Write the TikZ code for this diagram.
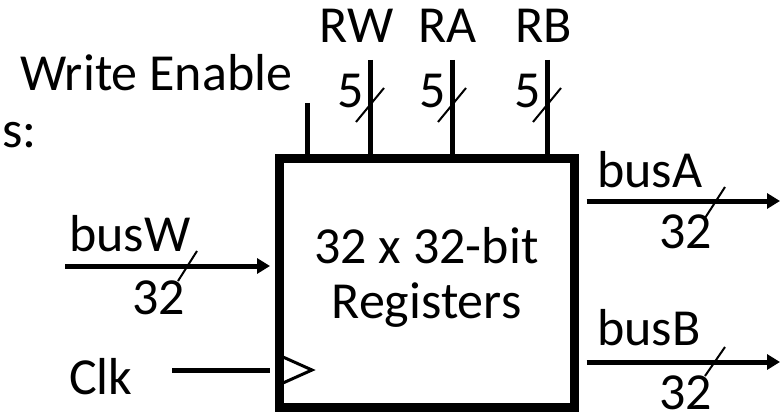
\documentclass[tikz,border=0pt]{standalone}
\usepackage{fontspec}
\setmainfont{Carlito}
\usetikzlibrary{arrows.meta}
\definecolor{regInk}{HTML}{000000}
\tikzset{
  every picture/.style={font=\fontsize{52}{50}\selectfont, text=regInk},
  reg box/.style={draw=regInk, line width=9pt, fill=white,
    minimum width=295pt, minimum height=249pt, inner sep=0pt},
  reg wire/.style={draw=regInk, line width=5pt, line cap=butt},
  reg bus/.style={reg wire, -{Triangle[length=13pt,width=15pt]}},
  reg slash/.style={draw=regInk, line width=2pt},
  reg clk/.style={draw=regInk, line width=3pt, line join=miter},
  reg label/.style={anchor=base west, inner sep=0pt},
  reg width/.style={anchor=base east, inner sep=0pt}
}

\begin{document}
\begin{tikzpicture}[x=1pt,y=-1pt]
  \useasboundingbox (0,0) rectangle (780,412);
  \node[reg box] (rf) at (426.5,282.5) {};
  \node[align=center, inner sep=0pt] (rfText) at (426.5,277) {32 x 32-bit\\[5pt]Registers};
  % register numbers and write enable on top
  \coordinate (we) at (307,103);
  \coordinate (rw) at (370,60);
  \coordinate (ra) at (452,60);
  \coordinate (rb) at (547,60);
  \draw[reg wire] (we) -- (we |- rf.north);
  \foreach \p in {rw,ra,rb} {
    \draw[reg wire] (\p) -- (\p |- rf.north);
    \draw[reg slash] (\p) ++(-14,62) -- ++(28,-34);
    \path (\p) ++(-6,47) node[reg width] {5};
  }
  \node[reg label] (weLabel) at (20,91) {Write Enable};
  \node[anchor=base, inner sep=0pt] (rwLabel) at (357,43) {RW};
  \node[anchor=base, inner sep=0pt] (raLabel) at (447.5,43) {RA};
  \node[anchor=base, inner sep=0pt] (rbLabel) at (544,43) {RB};
  \node[reg width] (cut) at (37,147) {s:};
  % data in and clock
  \coordinate (wIn) at (65,266);
  \coordinate (clkIn) at (172,370);
  \draw[reg bus, shorten >=4.5pt] (wIn) -- (wIn -| rf.west);
  \draw[reg slash] (178,281) -- (197,251);
  \node[reg label] (busW) at (69,251) {busW};
  \node[reg label] (wWidth) at (132,314) {32};
  \draw[reg wire, shorten >=4.5pt] (clkIn) -- (clkIn -| rf.west);
  \draw[reg clk] (283,357) -- (312,370) -- (283,383);
  \node[reg label] (clk) at (69,394) {Clk};
  % data out
  \coordinate (aOut) at (780,201);
  \coordinate (bOut) at (780,362);
  \draw[reg bus, shorten <=8pt] (aOut -| rf.east) -- (aOut);
  \draw[reg bus, shorten <=8pt] (bOut -| rf.east) -- (bOut);
  \draw[reg slash] (705,218) -- (725,187);
  \draw[reg slash] (705,376) -- (725,347);
  \node[reg label] (busA) at (597,187) {busA};
  \node[reg label] (aWidth) at (659,248) {32};
  \node[reg label] (busB) at (597,345) {busB};
  \node[reg label] (bWidth) at (659,409) {32};
\end{tikzpicture}
\end{document}
